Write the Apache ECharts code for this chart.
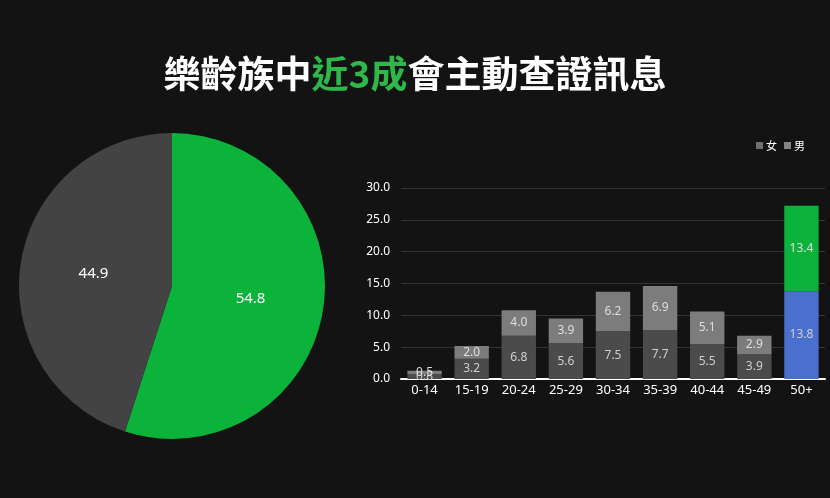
<!DOCTYPE html>
<html>
<head>
    <meta charset="utf-8">
    <title>樂齡族查證訊息</title>
    <script src="https://cdn.jsdelivr.net/npm/echarts@6/dist/echarts.min.js"></script>
    <style>
        html, body { margin: 0; padding: 0; background: #131313; }
        #chart { width: 830px; height: 498px; }
    </style>
</head>
<body>
<div id="chart"></div>
<script>
    // 圓餅圖
    var pieNames = ['會查證', '不會查證'];
    var pieValues = [54.8, 44.9];

    // 長條圖
    var ageGroups = ['0-14', '15-19', '20-24', '25-29', '30-34', '35-39', '40-44', '45-49', '50+'];
    var femaleValues = [0.8, 3.2, 6.8, 5.6, 7.5, 7.7, 5.5, 3.9, 13.8];
    var maleValues = [0.5, 2.0, 4.0, 3.9, 6.2, 6.9, 5.1, 2.9, 13.4];
    var yTicks = [0, 5, 10, 15, 20, 25, 30];

    var fontCn = '"Noto Sans CJK TC", "Noto Sans", sans-serif';
    var fontNum = '"Noto Sans", "DejaVu Sans", sans-serif';

    // 50+ 這組用藍/綠
    var femaleData = femaleValues.map(function (v, i) {
        return i === ageGroups.length - 1 ? {value: v, itemStyle: {color: '#4a6fce'}} : v;
    });
    var maleData = maleValues.map(function (v, i) {
        return i === ageGroups.length - 1 ? {value: v, itemStyle: {color: '#0cb33b'}} : v;
    });

    var chart = echarts.init(document.getElementById('chart'));
    var option = {
        backgroundColor: '#131313',
        animation: false,
        title: {
            text: '{w|樂齡族中}{g|近3成}{w|會主動查證訊息}',
            left: 'center',
            top: 50,
            textStyle: {
                rich: {
                    w: {color: '#ffffff', fontSize: 37, fontWeight: 'bold', fontFamily: fontCn},
                    g: {color: '#2fb84a', fontSize: 37, fontWeight: 'bold', fontFamily: fontCn}
                }
            }
        },
        legend: {
            right: 20,
            top: 135,
            itemWidth: 7,
            itemHeight: 7,
            itemGap: 7,
            icon: 'rect',
            data: [
                {name: '女', itemStyle: {color: '#6e6e6e'}},
                {name: '男', itemStyle: {color: '#858585'}}
            ],
            textStyle: {color: '#ffffff', fontSize: 11, fontFamily: fontCn, padding: [0, 0, 0, -2]}
        },
        grid: {
            left: 401,
            right: 5,
            top: 188,
            bottom: 119
        },
        xAxis: {
            type: 'category',
            data: ageGroups,
            axisLine: {lineStyle: {color: '#ffffff', width: 2}},
            axisTick: {show: false},
            axisLabel: {color: '#ffffff', fontSize: 13, fontFamily: fontNum, margin: 5}
        },
        yAxis: {
            type: 'value',
            min: yTicks[0],
            max: yTicks[yTicks.length - 1],
            interval: yTicks[1] - yTicks[0],
            axisLine: {show: false},
            axisTick: {show: false},
            axisLabel: {
                color: '#ffffff',
                fontSize: 12,
                fontFamily: fontNum,
                margin: 11,
                formatter: function (v) { return v.toFixed(1); }
            },
            splitLine: {lineStyle: {color: '#333333', width: 1}}
        },
        series: [
            {
                type: 'pie',
                name: '查證',
                center: [172, 286],
                radius: 153,
                startAngle: 90,
                clockwise: true,
                label: {
                    show: true,
                    position: 'inside',
                    color: '#ffffff',
                    fontSize: 15,
                    fontFamily: fontNum,
                    formatter: function (p) { return p.value.toFixed(1); }
                },
                labelLine: {show: false},
                data: [
                    {name: pieNames[0], value: pieValues[0], itemStyle: {color: '#0bb33a'}},
                    {name: pieNames[1], value: pieValues[1], itemStyle: {color: '#434343'}}
                ]
            },
            {
                name: '女',
                type: 'bar',
                stack: 'age',
                barWidth: '73%',
                itemStyle: {color: '#4b4b4b'},
                label: {
                    show: true,
                    position: 'inside',
                    color: '#cfcfcf',
                    fontSize: 12,
                    fontFamily: fontNum,
                    formatter: function (p) { return p.value.toFixed(1); }
                },
                data: femaleData
            },
            {
                name: '男',
                type: 'bar',
                stack: 'age',
                barWidth: '73%',
                itemStyle: {color: '#7c7c7c'},
                label: {
                    show: true,
                    position: 'inside',
                    color: '#dedede',
                    fontSize: 12,
                    fontFamily: fontNum,
                    formatter: function (p) { return p.value.toFixed(1); }
                },
                data: maleData
            }
        ]
    };
    chart.setOption(option);
</script>
</body>
</html>
